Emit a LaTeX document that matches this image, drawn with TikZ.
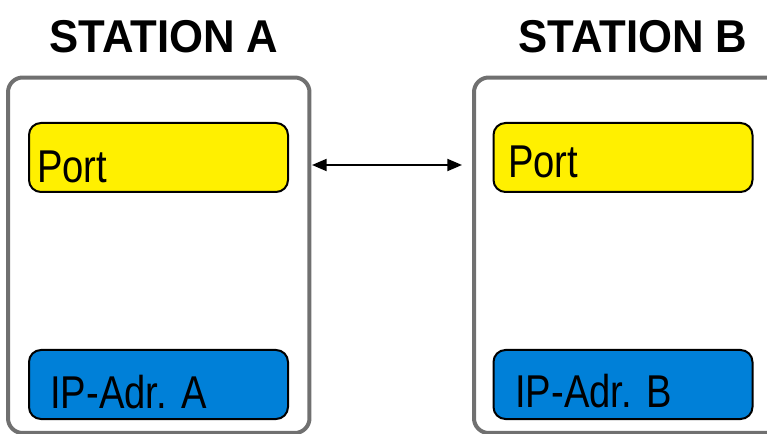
\documentclass[tikz,border=0pt]{standalone}
\usepackage{fontspec}
\setmainfont{Liberation Sans}
\newfontfamily\boxfont{Liberation Sans}[FakeStretch=0.83]
\newfontfamily\titlefont{Liberation Sans}[FakeStretch=0.95]
\usepackage{tikz}
\usetikzlibrary{arrows, arrows.meta}
\usetikzlibrary{positioning}
\definecolor{portyellow}{RGB}{255,240,0}
\definecolor{ipblue}{RGB}{0,128,216}
\definecolor{boxgray}{RGB}{112,112,112}
\tikzset{
  stationbox/.style={draw=boxgray, line width=3pt, rounded corners=11pt, inner sep=0pt},
  fieldbox/.style={draw=black, line width=1.5pt, rounded corners=9pt, inner sep=0pt,
    minimum width=194.25pt, minimum height=51.75pt},
  fieldtext/.style={anchor=base west, inner sep=0pt, font=\boxfont\fontsize{34.5}{40}\selectfont},
  titletext/.style={anchor=base, inner sep=0pt, font=\titlefont\bfseries\fontsize{34.5}{40}\selectfont}
}

\begin{document}
\begin{tikzpicture}[x=0.75pt, y=-0.75pt]
\useasboundingbox (0,0) rectangle (767,434);

\node[titletext] (titleA) at (164,53) {STATION A};
\node[titletext] (titleB) at (633,53) {STATION B};

\node[stationbox, minimum width=226.1pt, minimum height=266.6pt] (staA) at (158.75,255.25) {};
\node[stationbox, minimum width=237pt, minimum height=266.6pt] (staB) at (632,255.25) {};

\node[fieldbox, fill=portyellow] (portA) at (158.5,157.5) {};
\node[fieldbox, fill=ipblue] (ipA) at (158.5,384.5) {};
\node[fieldbox, fill=portyellow] (portB) at (623,157.5) {};
\node[fieldbox, fill=ipblue] (ipB) at (623,384.5) {};

\node[fieldtext] (portAtext) at (37,183) {Port};
\node[fieldtext] (ipAtext) at (50,408) {IP-Adr. A};
\node[fieldtext] (portBtext) at (508,178) {Port};
\node[fieldtext] (ipBtext) at (515,407) {IP-Adr. B};

\coordinate (linkA) at (312,165);
\coordinate (linkB) at (462,165);
\draw[{Triangle[length=11pt,width=9pt]}-{Triangle[length=11pt,width=9pt]}, line width=1.5pt] (linkA) -- (linkB);

\end{tikzpicture}
\end{document}
